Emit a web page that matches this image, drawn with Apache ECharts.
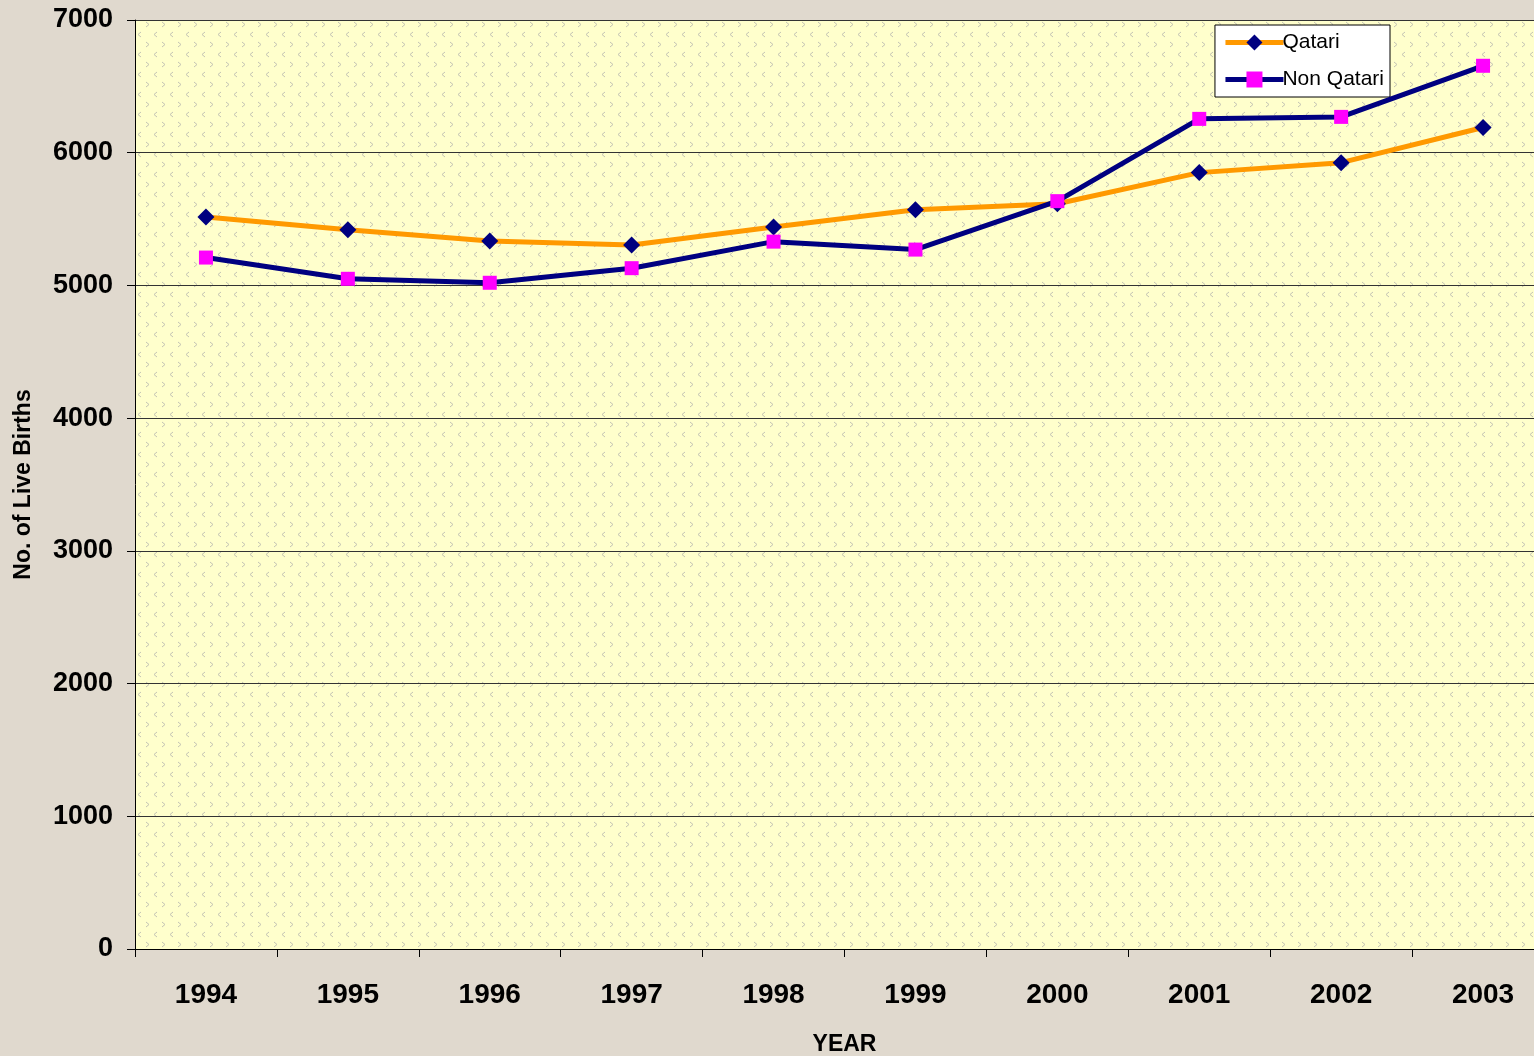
<!DOCTYPE html>
<html lang="en">
<head>
    <meta charset="UTF-8">
    <title>Live Births</title>
    <script src="https://cdn.jsdelivr.net/npm/echarts@6/dist/echarts.min.js"></script>
    <style>
        html, body { margin: 0; padding: 0; background: #e0d9ce; }
        #main { width: 1534px; height: 1056px; }
    </style>
</head>
<body>
<div id="main"></div>
<script>
    // data
    var years = ['1994', '1995', '1996', '1997', '1998', '1999', '2000', '2001', '2002', '2003'];
    var qatari = [5515, 5420, 5335, 5305, 5440, 5570, 5615, 5850, 5925, 6190];
    var nonQatari = [5210, 5050, 5020, 5130, 5330, 5270, 5635, 6255, 6270, 6655];

    // little "< >" pattern for the plot area
    function makePattern() {
        var c = document.createElement('canvas');
        c.width = 16; c.height = 20;
        var ctx = c.getContext('2d');
        ctx.fillStyle = '#ffffcc';
        ctx.fillRect(0, 0, 16, 20);
        ctx.strokeStyle = '#c4c4b4';
        ctx.lineWidth = 1;
        ctx.beginPath();
        // ">"
        ctx.moveTo(2, 2); ctx.lineTo(5, 4.5); ctx.lineTo(2, 7);
        // "<"
        ctx.moveTo(13, 12); ctx.lineTo(10, 14.5); ctx.lineTo(13, 17);
        ctx.stroke();
        return c;
    }

    var myChart = echarts.init(document.getElementById('main'));

    var option = {
        backgroundColor: '#e0d9ce',
        animation: false,
        textStyle: { fontFamily: 'Liberation Sans, Arial, sans-serif' },
        grid: {
            left: 135,
            top: 20,
            width: 1419,
            height: 929,
            containLabel: false,
            outerBoundsMode: 'none',
            show: true,
            borderWidth: 0,
            backgroundColor: { image: makePattern(), repeat: 'repeat' }
        },
        legend: {
            right: 144,
            top: 25,
            orient: 'vertical',
            backgroundColor: '#ffffff',
            borderColor: '#000000',
            borderWidth: 1,
            borderRadius: 0,
            padding: [7, 6, 7, 8],
            itemGap: 16,
            itemWidth: 58,
            itemHeight: 20,
            lineStyle: { width: 5 },
            textStyle: { fontSize: 21, color: '#000', padding: [0, 0, 0, -6] },
            data: ['Qatari', 'Non Qatari']
        },
        xAxis: {
            type: 'category',
            data: years,
            boundaryGap: true,
            name: 'YEAR',
            nameLocation: 'middle',
            nameGap: 84,
            nameTextStyle: { fontSize: 23, fontWeight: 'bold', color: '#000' },
            axisLine: { lineStyle: { color: '#000', width: 1 } },
            axisTick: { show: true, length: 8, alignWithLabel: false, lineStyle: { color: '#000' } },
            axisLabel: { fontSize: 28, fontWeight: 'bold', color: '#000', margin: 32 },
            splitLine: { show: false }
        },
        yAxis: {
            type: 'value',
            min: 0,
            max: 7000,
            interval: 1000,
            name: 'No. of Live Births',
            nameLocation: 'middle',
            nameGap: 100,
            nameTextStyle: { fontSize: 23, fontWeight: 'bold', color: '#000' },
            axisLine: { show: true, lineStyle: { color: '#000', width: 1 } },
            axisTick: { show: true, length: 8, lineStyle: { color: '#000' } },
            axisLabel: {
                fontSize: 27, fontWeight: 'bold', color: '#000', margin: 22,
                formatter: function (v) { return String(v); }
            },
            splitLine: { show: true, lineStyle: { color: '#333', width: 1 } }
        },
        series: [
            {
                name: 'Qatari',
                type: 'line',
                data: qatari,
                symbol: 'diamond',
                symbolSize: 17,
                lineStyle: { color: '#ff9900', width: 5 },
                itemStyle: { color: '#000080' },
                z: 3
            },
            {
                name: 'Non Qatari',
                type: 'line',
                data: nonQatari,
                symbol: 'rect',
                symbolSize: 14,
                lineStyle: { color: '#000080', width: 5 },
                itemStyle: { color: '#ff00ff' },
                z: 4
            }
        ]
    };

    myChart.setOption(option);
</script>
</body>
</html>
